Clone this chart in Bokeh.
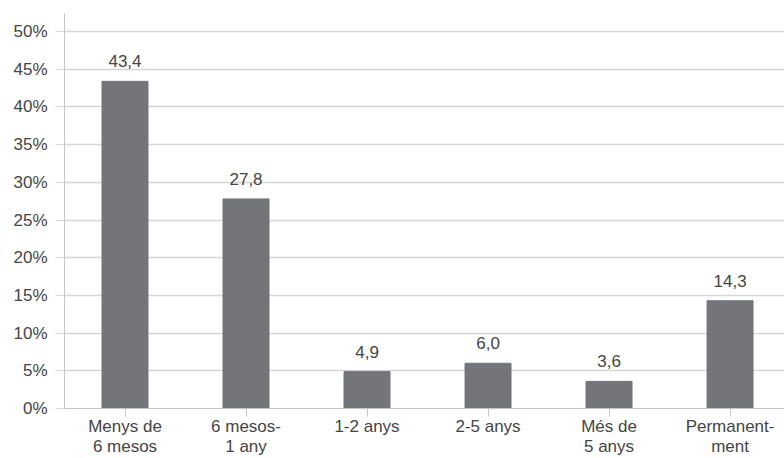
from bokeh.plotting import figure
from bokeh.models import Range1d, FixedTicker, ColumnDataSource
from bokeh.core.properties import value
from bokeh.embed import file_html
from bokeh.resources import INLINE

categories = ["Menys de\n6 mesos", "6 mesos-\n1 any", "1-2 anys", "2-5 anys", "Més de\n5 anys", "Permanent-\nment"]
values = [43.4, 27.8, 4.9, 6.0, 3.6, 14.3]
y_ticks = [0, 5, 10, 15, 20, 25, 30, 35, 40, 45, 50]

FONT = "Liberation Sans"
TEXT = "#454545"
BAR = "#747579"
GRID = "#d6d6d6"
AXIS = "#c4c4c4"

xs = [i + 0.5 for i in range(len(categories))]
labels = [f"{v:.1f}".replace(".", ",") for v in values]
src = ColumnDataSource(dict(x=xs, top=values, label=labels))

p = figure(width=784, height=458, output_backend="svg", toolbar_location=None,
           x_range=Range1d(0, 5.95), y_range=Range1d(0, 52.4),
           min_border_left=64, min_border_top=13, min_border_right=0, min_border_bottom=10)
p.outline_line_color = None
p.background_fill_color = "white"

p.vbar(x="x", top="top", width=0.38, source=src, color=BAR)
p.text(x="x", y="top", text="label", source=src, text_align="center",
       text_baseline="alphabetic", y_offset=-20, text_font=value(FONT),
       text_font_size="17px", text_color=TEXT)

# y axis
p.yaxis.ticker = FixedTicker(ticks=y_ticks)
p.yaxis.major_label_overrides = {t: f"{t}%" for t in y_ticks}
p.yaxis.axis_line_color = AXIS
p.yaxis.major_tick_line_color = GRID
p.yaxis.major_tick_out = 9
p.yaxis.major_tick_in = 0
p.yaxis.minor_tick_line_color = None
p.yaxis.major_label_standoff = 8
p.yaxis.major_label_text_font = FONT
p.yaxis.major_label_text_font_size = "17px"
p.yaxis.major_label_text_color = TEXT

# x axis
p.xaxis.ticker = FixedTicker(ticks=xs)
p.xaxis.major_label_overrides = {x: c for x, c in zip(xs, categories)}
p.xaxis.axis_line_color = AXIS
p.xaxis.major_tick_line_color = AXIS
p.xaxis.major_tick_out = 8
p.xaxis.major_tick_in = 0
p.xaxis.minor_tick_line_color = None
p.xaxis.major_label_standoff = 0
p.xaxis.major_label_text_font = FONT
p.xaxis.major_label_text_font_size = "17px"
p.xaxis.major_label_text_color = TEXT
p.xaxis.major_label_text_line_height = 1.06

p.xgrid.grid_line_color = None
p.ygrid.ticker = FixedTicker(ticks=y_ticks)
p.ygrid.grid_line_color = GRID
p.ygrid.grid_line_width = 1.5

open("out.html", "w").write(file_html(p, INLINE))
